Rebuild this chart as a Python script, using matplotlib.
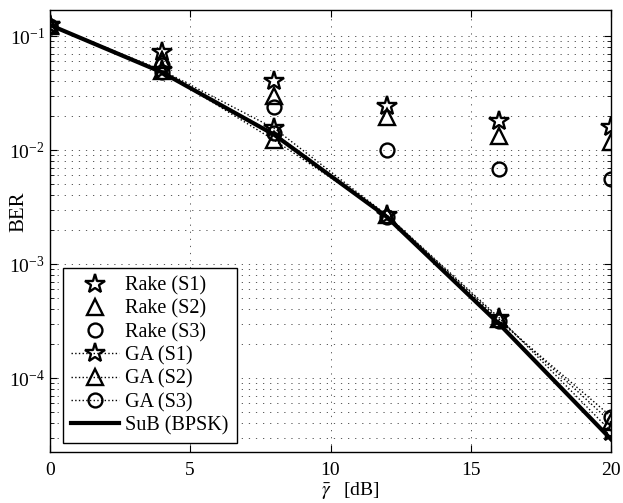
import numpy as np
import matplotlib
matplotlib.use('Agg')
import matplotlib.pyplot as plt
from matplotlib.ticker import LogLocator, NullFormatter

plt.rcParams['font.family'] = 'Liberation Serif'
plt.rcParams['mathtext.fontset'] = 'stix'

# SNR points
snr = [0, 4, 8, 12, 16, 20]

# Rake receiver (simulated)
rake_s1 = [0.125, 0.072, 0.040, 0.0245, 0.018, 0.0158]
rake_s2 = [0.122, 0.062, 0.030, 0.0195, 0.0134, 0.0118]
rake_s3 = [0.120, 0.056, 0.024, 0.0100, 0.0068, 0.0056]

# Gaussian approximation
ga_s1 = [0.125, 0.050, 0.0155, 0.0027, 3.4e-4, 3.4e-5]
ga_s2 = [0.124, 0.049, 0.0122, 0.0027, 3.3e-4, 4.1e-5]
ga_s3 = [0.123, 0.048, 0.0140, 0.0026, 3.2e-4, 4.6e-5]

# single-user bound
sub_bpsk = [0.125, 0.048, 0.0136, 0.0026, 3.0e-4, 2.9e-5]

fig = plt.figure(figsize=(6.23, 5.03), dpi=100)
ax = fig.add_axes([0.080, 0.101, 0.901, 0.879])

mk = dict(color='k', mfc='none', mew=1.7)
ax.semilogy(snr, rake_s1, linestyle='none', marker='*', ms=15, label='Rake (S1)', **mk)
ax.semilogy(snr, rake_s2, linestyle='none', marker='^', ms=12, label='Rake (S2)', **mk)
ax.semilogy(snr, rake_s3, linestyle='none', marker='o', ms=10, label='Rake (S3)', **mk)
ax.semilogy(snr, ga_s1, linestyle=':', lw=1, marker='*', ms=15, label='GA (S1)', **mk)
ax.semilogy(snr, ga_s2, linestyle=':', lw=1, marker='^', ms=12, label='GA (S2)', **mk)
ax.semilogy(snr, ga_s3, linestyle=':', lw=1, marker='o', ms=10, label='GA (S3)', **mk)
ax.semilogy(snr, sub_bpsk, color='k', lw=3, label='SuB (BPSK)')

ax.set_xlim(0, 20)
ax.set_ylim(2.24e-5, 0.169)
ax.set_xticks([0, 5, 10, 15, 20])
ax.yaxis.set_major_locator(LogLocator(base=10, numticks=10))
ax.yaxis.set_minor_locator(LogLocator(base=10, subs=np.arange(2, 10), numticks=20))
ax.yaxis.set_minor_formatter(NullFormatter())

grid_style = dict(linestyle=(0, (1.5, 7)), color='0.25', lw=0.6)
ax.grid(True, which='major', **grid_style)
ax.grid(True, which='minor', axis='y', **grid_style)
ax.tick_params(which='both', direction='in', top=True, right=True, labelsize=14)
ax.tick_params(which='major', length=5)
ax.tick_params(which='minor', length=3)
ax.tick_params(axis='x', pad=7)
for s in ax.spines.values():
    s.set_linewidth(1.0)

ax.set_xlabel(r'$\bar{\gamma}\quad$[dB]', fontsize=14)
ax.xaxis.set_label_coords(0.535, -0.064)
ax.set_ylabel('BER', fontsize=15)
ax.yaxis.set_label_coords(-0.039, 0.543)

leg = ax.legend(loc='lower left', bbox_to_anchor=(0.023, 0.020), borderaxespad=0,
                fontsize=14.5, handlelength=2.4, handletextpad=0.3,
                labelspacing=0.2, fancybox=False, edgecolor='k', framealpha=1)
leg.get_frame().set_linewidth(1.0)

fig.savefig('out.png', dpi=100)
